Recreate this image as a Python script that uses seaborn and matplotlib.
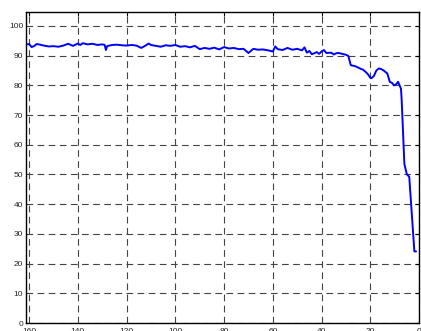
import matplotlib
matplotlib.use("Agg")
import matplotlib.pyplot as plt
import seaborn as sns
import pandas as pd

# Remaining distance (x) and measured percentage (y)
distance = [161.3, 160, 159, 158, 157, 156, 154, 152, 150, 148, 146, 144, 142, 140,
            139, 138, 136, 134, 132, 130, 129, 128.5, 128, 126, 124, 122, 120, 118,
            116, 114, 112, 111, 110, 108, 106, 104, 102, 100, 98, 96, 94, 92, 90,
            88, 86, 84, 82, 80, 78, 76, 74, 72, 70, 68, 66, 64, 62, 60, 59, 58, 56,
            54, 52, 50, 48, 47, 46, 45, 44, 43, 42, 41, 40, 39, 38, 36, 35, 34, 33,
            32, 30, 29, 28, 26, 24, 23, 22, 21, 20, 19.5, 18.5, 17.5, 16.5, 15.5,
            14.5, 13, 12, 11, 10.3, 9.3, 8.6, 7.4, 7.1, 6.0, 5.0, 4.0, 1.9, 1.2]
percent = [93.8, 93.9, 92.9, 93.2, 93.9, 93.8, 93.4, 93.1, 93.2, 93.0, 93.4, 94.0, 93.3, 94.1,
           93.6, 94.2, 93.8, 94.0, 93.6, 93.8, 93.6, 91.9, 93.2, 93.6, 93.7, 93.5, 93.4, 93.6,
           93.4, 92.6, 93.5, 94.1, 93.6, 93.3, 93.0, 93.5, 93.3, 93.6, 93.0, 93.2, 92.8, 93.3, 92.2,
           92.6, 92.3, 92.7, 92.1, 92.9, 92.4, 92.6, 92.2, 92.3, 90.9, 92.3, 92.0, 92.1, 91.8, 91.4, 93.1, 92.2, 91.9,
           92.6, 92.0, 92.3, 91.8, 92.8, 91.0, 91.6, 90.5, 90.8, 91.2, 90.6, 91.4, 91.9, 90.9, 91.0, 90.4, 90.8, 90.9,
           90.7, 90.3, 89.9, 86.8, 86.4, 85.6, 85.3, 84.6, 83.8, 82.6, 82.4, 83.2, 85.0, 85.7, 85.5,
           85.0, 84.0, 81.2, 80.8, 80.0, 80.4, 81.2, 78.9, 74.9, 53.5, 50.1, 49.2, 24.1, 24.1]

x_ticks = [0, 20, 40, 60, 80, 100, 120, 140, 160]
y_ticks = [0, 10, 20, 30, 40, 50, 60, 70, 80, 90, 100]

df = pd.DataFrame({"distance": distance, "percent": percent})

sns.set_style("white")
plt.rcParams["font.family"] = ["Liberation Sans", "DejaVu Sans"]

fig = plt.figure(figsize=(4.21, 3.31), dpi=100)
ax = fig.add_axes([26 / 421, 8 / 331, 393 / 421, 311 / 331])

sns.lineplot(data=df, x="distance", y="percent", ax=ax, color="#0000ff",
             linewidth=1.4, sort=False, estimator=None)

ax.set_xlim(161.3, 0)
ax.set_ylim(0, 104.7)
ax.set_xticks(x_ticks)
ax.set_yticks(y_ticks)
ax.set_xlabel("")
ax.set_ylabel("")

ax.grid(True, color="#444444", linestyle=(0, (6, 4)), linewidth=0.8)
for s in ax.spines.values():
    s.set_visible(True)
    s.set_color("black")
    s.set_linewidth(1.0)
ax.tick_params(axis="both", direction="in", length=3, width=0.8, color="black",
               labelsize=6, top=True, right=True, pad=2)
ax.tick_params(axis="x", pad=3.5)

fig.savefig("out.png", dpi=100)
